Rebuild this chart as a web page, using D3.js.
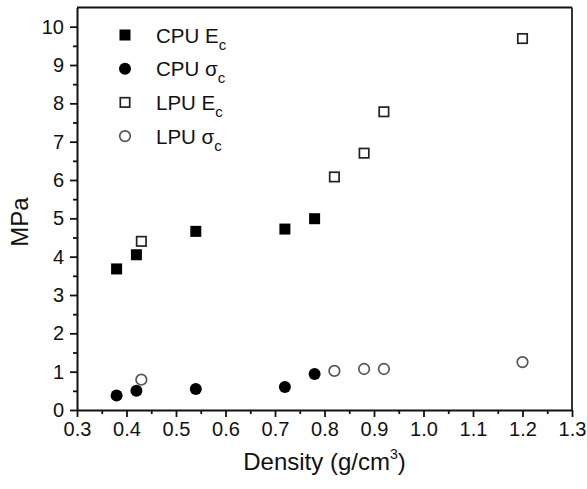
<!DOCTYPE html>
<html>
<head>
<meta charset="utf-8">
<script src="https://cdn.jsdelivr.net/npm/d3@7"></script>
<style>
  body { margin: 0; background: #fff; }
  svg { display: block; font-family: "Liberation Sans", Arial, sans-serif; }
</style>
</head>
<body>
<svg id="chart" width="587" height="489"></svg>
<script>
// data
const cpuEDensity = [0.38, 0.42, 0.54, 0.72, 0.78];
const cpuEValues = [3.68, 4.05, 4.66, 4.72, 4.99];
const cpuSDensity = [0.38, 0.42, 0.54, 0.72, 0.78];
const cpuSValues = [0.38, 0.5, 0.55, 0.6, 0.94];
const lpuEDensity = [0.43, 0.82, 0.88, 0.92, 1.2];
const lpuEValues = [4.4, 6.08, 6.7, 7.78, 9.69];
const lpuSDensity = [0.43, 0.82, 0.88, 0.92, 1.2];
const lpuSValues = [0.79, 1.02, 1.07, 1.07, 1.25];

const xTicks = [0.3, 0.4, 0.5, 0.6, 0.7, 0.8, 0.9, 1.0, 1.1, 1.2, 1.3];
const yTicks = [0, 1, 2, 3, 4, 5, 6, 7, 8, 9, 10];

// series: name, marker shape, filled?
const seriesNames = ['CPU E', 'CPU \u03c3', 'LPU E', 'LPU \u03c3'];
const seriesShapes = ['square', 'circle', 'square', 'circle'];
const seriesFilled = [true, true, false, false];
const seriesX = [cpuEDensity, cpuSDensity, lpuEDensity, lpuSDensity];
const seriesY = [cpuEValues, cpuSValues, lpuEValues, lpuSValues];

// layout
const plotL = 77, plotR = 572, plotT = 7.5, plotB = 410;
const FONT = '"Liberation Sans", Arial, sans-serif';
const svg = d3.select('#chart');

const x = d3.scaleLinear().domain([0.3, 1.3]).range([plotL, plotR]);
const y = d3.scaleLinear().domain([0, 10.5]).range([plotB, plotT]);

// minor ticks halfway between majors
const xMinor = d3.range(0.35, 1.3, 0.1);
const yMinor = d3.range(0.5, 10.5, 1);

// x axis
svg.append('g')
    .attr('transform', `translate(0,${plotB})`)
    .call(d3.axisBottom(x).tickValues(xMinor).tickSize(4).tickFormat('').tickSizeOuter(0))
    .call(g => g.select('.domain').remove())
    .selectAll('line').attr('stroke', '#111').attr('stroke-width', 1.8);

const xa = svg.append('g')
    .attr('transform', `translate(0,${plotB})`)
    .call(d3.axisBottom(x).tickValues(xTicks).tickSize(7).tickPadding(5)
        .tickFormat(d3.format('.1f')).tickSizeOuter(0));
xa.select('.domain').attr('stroke', '#111').attr('stroke-width', 2);
xa.selectAll('line').attr('stroke', '#111').attr('stroke-width', 1.8);
xa.selectAll('text').attr('font-size', 20).attr('fill', '#111').attr('font-family', FONT);

// y axis
svg.append('g')
    .attr('transform', `translate(${plotL},0)`)
    .call(d3.axisLeft(y).tickValues(yMinor).tickSize(4).tickFormat('').tickSizeOuter(0))
    .call(g => g.select('.domain').remove())
    .selectAll('line').attr('stroke', '#111').attr('stroke-width', 1.8);

const ya = svg.append('g')
    .attr('transform', `translate(${plotL},0)`)
    .call(d3.axisLeft(y).tickValues(yTicks).tickSize(7).tickPadding(6).tickSizeOuter(0));
ya.select('.domain').attr('stroke', '#111').attr('stroke-width', 2);
ya.selectAll('line').attr('stroke', '#111').attr('stroke-width', 1.8);
ya.selectAll('text').attr('font-size', 20).attr('fill', '#111').attr('font-family', FONT);

// top and right frame
svg.append('line')
    .attr('x1', plotL).attr('x2', plotR).attr('y1', plotT).attr('y2', plotT)
    .attr('stroke', '#111').attr('stroke-width', 2);
svg.append('line')
    .attr('x1', plotR).attr('x2', plotR).attr('y1', plotT).attr('y2', plotB)
    .attr('stroke', '#333').attr('stroke-width', 2);

// axis titles
const xTitle = svg.append('text')
    .attr('x', (plotL + plotR) / 2)
    .attr('y', 470)
    .attr('text-anchor', 'middle')
    .attr('font-size', 24)
    .attr('fill', '#111')
    .text('Density (g/cm');
xTitle.append('tspan').attr('font-size', 14).attr('dy', -11).text('3');
xTitle.append('tspan').attr('dy', 11).text(')');

svg.append('text')
    .attr('transform', 'translate(28,222) rotate(-90)')
    .attr('text-anchor', 'middle')
    .attr('font-size', 24)
    .attr('fill', '#111')
    .text('MPa');

// markers
function drawMarker(g, shape, filled, cx, cy) {
    const stroke = filled ? '#000' : (shape === 'square' ? '#222' : '#555');
    if (shape === 'square') {
        const s = filled ? 11 : 9.4;
        g.append('rect')
            .attr('x', cx - s / 2).attr('y', cy - s / 2)
            .attr('width', s).attr('height', s)
            .attr('fill', filled ? '#000' : '#fff')
            .attr('stroke', stroke)
            .attr('stroke-width', filled ? 0 : 1.7);
    } else {
        g.append('circle')
            .attr('cx', cx).attr('cy', cy).attr('r', filled ? 6 : 5.3)
            .attr('fill', filled ? '#000' : '#fff')
            .attr('stroke', stroke)
            .attr('stroke-width', filled ? 0 : 1.7);
    }
}

const pts = svg.append('g');
seriesX.forEach((xs, i) => {
    xs.forEach((d, j) => {
        drawMarker(pts, seriesShapes[i], seriesFilled[i], x(d), y(seriesY[i][j]));
    });
});

// legend
const legend = svg.append('g');
seriesNames.forEach((name, i) => {
    const ly = 35 + i * 33.7;
    drawMarker(legend, seriesShapes[i], seriesFilled[i], 125, ly);
    const t = legend.append('text')
        .attr('x', 156)
        .attr('y', ly + 7.5)
        .attr('font-size', 20.5)
        .attr('fill', '#111')
        .text(name);
    t.append('tspan').attr('font-size', 15).attr('dy', 7).text('c');
});
</script>
</body>
</html>
